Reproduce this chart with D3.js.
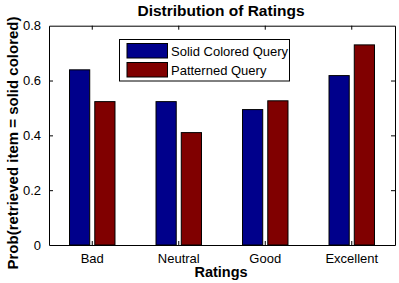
<!DOCTYPE html>
<html><head><meta charset="utf-8">
<script src="https://cdn.jsdelivr.net/npm/d3@7"></script>
<style>body{margin:0;background:#fff}text{font-family:"Liberation Sans",Arial,sans-serif}</style>
</head><body><svg id="c" width="399" height="283"></svg>
<script>
const categories = ["Bad", "Neutral", "Good", "Excellent"];
const seriesNames = ["Solid Colored Query", "Patterned Query"];
const solidValues = [0.639, 0.523, 0.494, 0.618];
const patternedValues = [0.523, 0.410, 0.526, 0.730];
const yTicks = [0, 0.2, 0.4, 0.6, 0.8];
const colors = ["#00008b", "#800000"];

const svg = d3.select("#c");
const L = 49, R = 395, T = 25.7, B = 245;
const x = d3.scaleBand().domain(categories).range([L, R]);
const y = d3.scaleLinear().domain([0, 0.8]).range([B, T]);
const sub = d3.scaleBand().domain(seriesNames).range([-24, 24]).paddingInner(0.2).paddingOuter(0.05);

const series = [solidValues, patternedValues];
series.forEach((vals, si) => {
  svg.append("g").selectAll("rect").data(categories).join("rect")
    .attr("x", c => x(c) + x.bandwidth()/2 + sub(seriesNames[si]))
    .attr("width", sub.bandwidth())
    .attr("y", (c, i) => y(vals[i]))
    .attr("height", (c, i) => B - y(vals[i]))
    .attr("fill", colors[si]).attr("stroke", "#000").attr("stroke-width", 1);
});

// axes
const fmt = d => d === 0 ? "0" : d3.format(".1f")(d);
const gl = svg.append("g").attr("transform", `translate(${L},0)`)
  .call(d3.axisLeft(y).tickValues(yTicks).tickFormat(fmt).tickSizeInner(-4).tickSizeOuter(0).tickPadding(8));
const gr = svg.append("g").attr("transform", `translate(${R},0)`)
  .call(d3.axisRight(y).tickValues(yTicks).tickFormat("").tickSizeInner(-4).tickSizeOuter(0));
const gb = svg.append("g").attr("transform", `translate(0,${B})`)
  .call(d3.axisBottom(x).tickSizeInner(-4).tickSizeOuter(0).tickPadding(9));
const gt = svg.append("g").attr("transform", `translate(0,${T})`)
  .call(d3.axisTop(x).tickFormat("").tickSizeInner(-4).tickSizeOuter(0));
[gl, gr, gb, gt].forEach(g => {
  g.selectAll(".domain").attr("stroke", "#000");
  g.selectAll(".tick line").attr("stroke", "#000");
  g.selectAll(".tick text").attr("font-size", 13).attr("fill", "#000").attr("font-family", "Liberation Sans, Arial, sans-serif");
});
gl.selectAll(".tick").filter(d => d === 0.8 || d === 0).select("line").remove();
gr.selectAll(".tick").filter(d => d === 0.8 || d === 0).select("line").remove();

// title and labels
svg.append("text").attr("x", 221).attr("y", 15.5).attr("text-anchor", "middle")
  .attr("font-size", 15.5).attr("font-weight", "bold").text("Distribution of Ratings");
svg.append("text").attr("x", 221).attr("y", 277).attr("text-anchor", "middle")
  .attr("font-size", 14.5).attr("font-weight", "bold").text("Ratings");
svg.append("text").attr("transform", `translate(18,143) rotate(-90)`).attr("text-anchor", "middle")
  .attr("font-size", 15).attr("font-weight", "bold").text("Prob(retrieved item = solid colored)");

// legend
const lg = svg.append("g");
lg.append("rect").attr("x", 119.5).attr("y", 39.5).attr("width", 170).attr("height", 41.5)
  .attr("fill", "#fff").attr("stroke", "#000");
seriesNames.forEach((n, i) => {
  lg.append("rect").attr("x", 127).attr("y", 43.5 + i*19).attr("width", 40.5).attr("height", 14.5)
    .attr("fill", colors[i]).attr("stroke", "#000");
  lg.append("text").attr("x", 171).attr("y", 55.5 + i*19).attr("font-size", 13).text(n);
});
</script></body></html>
